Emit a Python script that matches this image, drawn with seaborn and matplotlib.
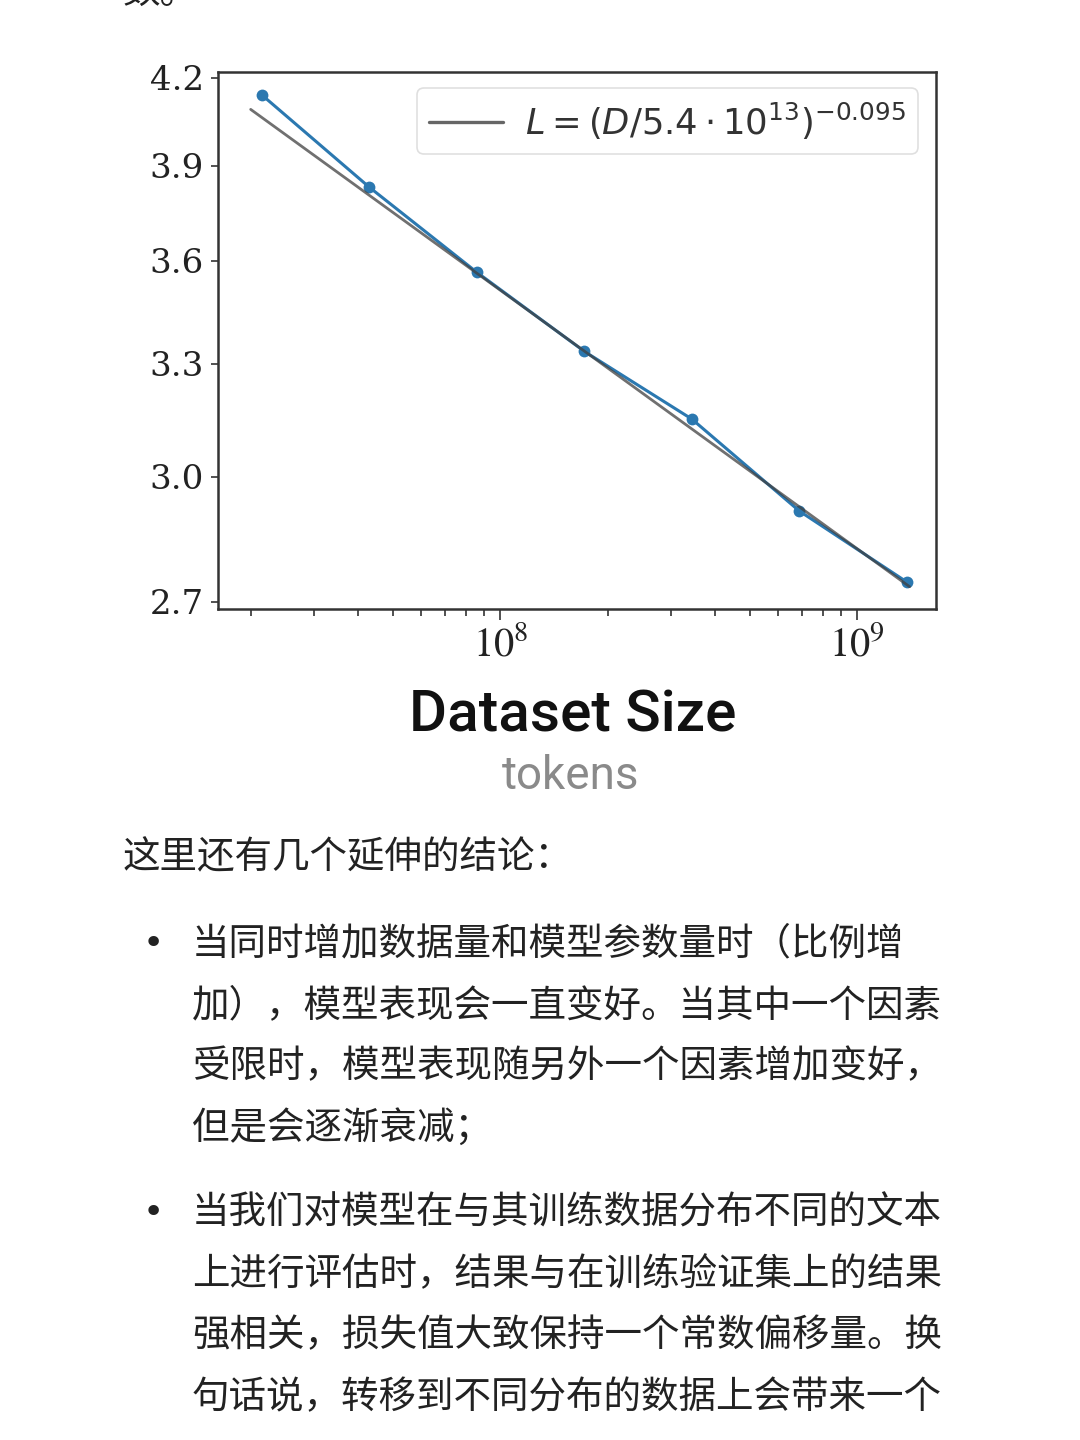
import matplotlib
matplotlib.use("Agg")
import matplotlib.pyplot as plt
from matplotlib.font_manager import FontProperties
from matplotlib.ticker import NullLocator, LogLocator
import seaborn as sns
import pandas as pd

# data (tokens vs loss)
tokens = [2.15e7, 4.3e7, 8.6e7, 1.72e8, 3.44e8, 6.88e8, 1.38e9]
loss = [4.14, 3.83, 3.565, 3.335, 3.15, 2.915, 2.745]

# fitted power law, end points as drawn
fit_tokens = [2.0e7, 1.4e9]
fit_loss = [4.09, 2.735]
fit_label = r"$L = (D/5.4\cdot10^{13})^{-0.095}$"

yticks = [2.7, 3.0, 3.3, 3.6, 3.9, 4.2]
ytick_labels = ["2.7", "3.0", "3.3", "3.6", "3.9", "4.2"]
xticks = [1e8, 1e9]
xtick_labels = [r"$10^8$", r"$10^9$"]

top_line = "数。"
xlabel = "Dataset Size"
xunit = "tokens"
intro = "这里还有几个延伸的结论："
bullet1 = ["当同时增加数据量和模型参数量时（比例增",
           "加），模型表现会一直变好。当其中一个因素",
           "受限时，模型表现随另外一个因素增加变好，",
           "但是会逐渐衰减；"]
bullet2 = ["当我们对模型在与其训练数据分布不同的文本",
           "上进行评估时，结果与在训练验证集上的结果",
           "强相关，损失值大致保持一个常数偏移量。换",
           "句话说，转移到不同分布的数据上会带来一个"]

sns.set_style("ticks")
plt.rcParams["mathtext.fontset"] = "stix"
cjk = ["Noto Sans CJK SC", "DejaVu Sans"]

W, H = 1080, 1440
fig = plt.figure(figsize=(W / 100, H / 100), dpi=100)
fig.patch.set_facecolor("white")


def fx(px):
    return px / W


def fy(py):
    return 1 - py / H


ax = fig.add_axes([fx(218), fy(609), fx(936 - 218), (609 - 72) / H])

df = pd.DataFrame({"tokens": tokens, "loss": loss})
fit = pd.DataFrame({"tokens": fit_tokens, "loss": fit_loss})

sns.lineplot(data=df, x="tokens", y="loss", ax=ax, color="#2b78b0",
             marker="o", markersize=8.5, markeredgewidth=0, linewidth=2.2,
             legend=False, zorder=2)
sns.lineplot(data=fit, x="tokens", y="loss", ax=ax, color="#404040",
             linewidth=2.0, alpha=0.75, label=fit_label, zorder=3)

ax.set_xscale("log")
ax.set_yscale("log")
ax.set_xlim(1.62e7, 1.66e9)
ax.set_ylim(2.684, 4.221)

ax.yaxis.set_minor_locator(NullLocator())
ax.set_yticks(yticks)
ax.set_yticklabels(ytick_labels, fontfamily="DejaVu Serif", fontsize=24.5,
                   color="#222222")
ax.set_xticks(xticks)
ax.set_xticklabels(xtick_labels, fontsize=29, color="#222222")
ax.xaxis.set_minor_locator(LogLocator(base=10, subs=range(2, 10)))
ax.tick_params(axis="x", which="minor", length=5, width=1.2, color="#333333")
ax.tick_params(axis="x", which="major", length=8, width=1.2, color="#333333",
               pad=3)
ax.tick_params(axis="y", which="major", length=5, width=1.2, color="#333333",
               pad=5)
ax.set_xlabel("")
ax.set_ylabel("")
for sp in ax.spines.values():
    sp.set_color("#333333")
    sp.set_linewidth(1.8)

leg = ax.legend(loc="upper right", bbox_to_anchor=((918 - 218) / 718, (609 - 88) / 537),
                borderaxespad=0, frameon=True, fancybox=True,
                prop=FontProperties(size=25.5, math_fontfamily="dejavusans"),
                handlelength=2.1, handletextpad=0.6, borderpad=0.35)
leg.get_frame().set_edgecolor("#d8d8d8")
leg.get_frame().set_linewidth(1.2)
for ln in leg.get_lines():
    ln.set_linewidth(2.4)
    ln.set_alpha(0.8)
for t in leg.get_texts():
    t.set_color("#333333")

# text of the page around the chart
txt = "#222222"
fig.text(fx(123), fy(-8), top_line, family=cjk, fontsize=27, color=txt,
         ha="left", va="center")
fig.text(fx(573), fy(716), xlabel, family="Roboto", fontsize=42,
         fontweight="medium", color="#111111", ha="center", va="center")
fig.text(fx(571), fy(776), xunit, family="Roboto", fontsize=33,
         color="#8a8a8a", ha="center", va="center")
fig.text(fx(123), fy(858), intro, family=cjk, fontsize=27, color=txt,
         ha="left", va="center")

for start, lines in ((944, bullet1), (1213, bullet2)):
    fig.text(fx(153), fy(start), "•", family="DejaVu Sans", fontsize=26,
             color=txt, ha="center", va="center")
    for i, line in enumerate(lines):
        fig.text(fx(192), fy(start + i * 61.5), line, family=cjk, fontsize=27,
                 color=txt, ha="left", va="center")

fig.savefig("out.png", dpi=100, facecolor="white")
